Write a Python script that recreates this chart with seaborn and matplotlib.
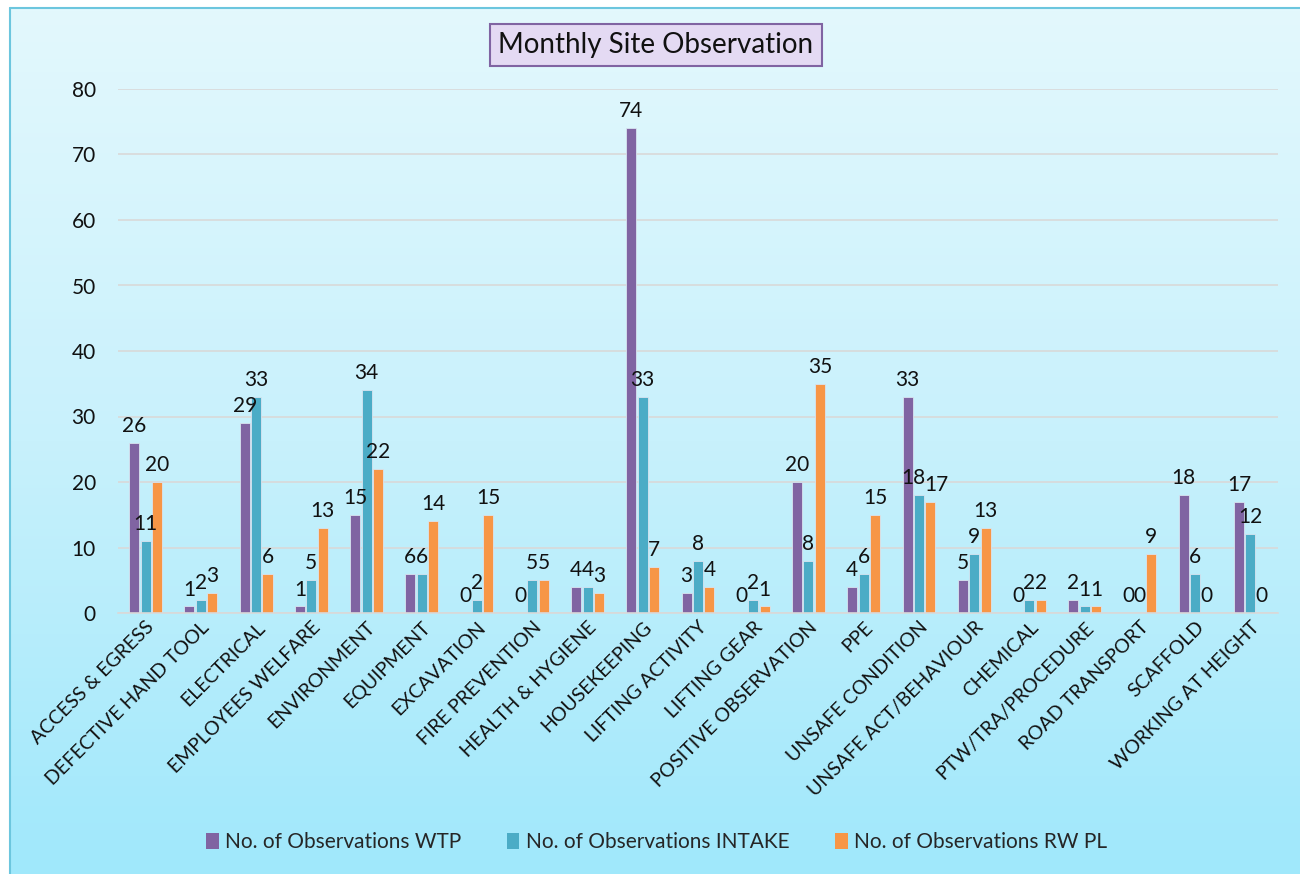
import numpy as np
import pandas as pd
import matplotlib
matplotlib.use("Agg")
import matplotlib.pyplot as plt
import seaborn as sns
from matplotlib.colors import LinearSegmentedColormap
from matplotlib.lines import Line2D
from matplotlib.patches import Patch

categories = ["ACCESS & EGRESS", "DEFECTIVE HAND TOOL", "ELECTRICAL", "EMPLOYEES WELFARE",
              "ENVIRONMENT", "EQUIPMENT", "EXCAVATION", "FIRE PREVENTION", "HEALTH & HYGIENE",
              "HOUSEKEEPING", "LIFTING ACTIVITY", "LIFTING GEAR", "POSITIVE OBSERVATION", "PPE",
              "UNSAFE CONDITION", "UNSAFE ACT/BEHAVIOUR", "CHEMICAL", "PTW/TRA/PROCEDURE",
              "ROAD TRANSPORT", "SCAFFOLD", "WORKING AT HEIGHT"]
wtp = [26, 1, 29, 1, 15, 6, 0, 0, 4, 74, 3, 0, 20, 4, 33, 5, 0, 2, 0, 18, 17]
intake = [11, 2, 33, 5, 34, 6, 2, 5, 4, 33, 8, 2, 8, 6, 18, 9, 2, 1, 0, 6, 12]
rwpl = [20, 3, 6, 13, 22, 14, 15, 5, 3, 7, 4, 1, 35, 15, 17, 13, 2, 1, 9, 0, 0]
series_names = ["No. of Observations WTP", "No. of Observations INTAKE", "No. of Observations RW PL"]
colors = ["#8064A2", "#4BACC6", "#F79646"]

df = pd.DataFrame({"category": categories,
                   series_names[0]: wtp,
                   series_names[1]: intake,
                   series_names[2]: rwpl})
df = df.melt(id_vars="category", var_name="series", value_name="value")

sns.set_theme(style="white")
plt.rcParams["font.family"] = ["Lato", "DejaVu Sans"]

W, H = 1300, 874
fig = plt.figure(figsize=(W / 100, H / 100), dpi=100)
fig.patch.set_facecolor("white")

# background gradient panel
bg = fig.add_axes([0, 0, 1, 1], zorder=0)
cmap = LinearSegmentedColormap.from_list("bg", ["#E3F8FD", "#C8F1FC", "#A0E8FB"])
grad = np.linspace(0, 1, 256).reshape(-1, 1)
x0, y0 = 10 / W, 1 - 8 / H
bg.imshow(grad, aspect="auto", cmap=cmap, extent=[x0, 1.0, 0, y0], origin="upper")
bg.set_xlim(0, 1)
bg.set_ylim(0, 1)
bg.add_line(Line2D([x0, x0], [0, y0], color="#6CC6DE", lw=1.5))
bg.add_line(Line2D([x0, 1], [y0, y0], color="#6CC6DE", lw=1.5))
bg.axis("off")

ax = fig.add_axes([118 / W, 1 - 613 / H, 1160 / W, 524 / H], zorder=1)
ax.patch.set_alpha(0)

sns.barplot(data=df, x="category", y="value", hue="series", palette=colors,
            saturation=1, width=0.62, gap=0.12, ax=ax, edgecolor="#D8E4F0",
            linewidth=0.6, errorbar=None)

all_labels = []
for c in ax.containers:
    all_labels.append(ax.bar_label(c, padding=5, fontsize=15, color="#111111"))

# nudge the crowded pair in "UNSAFE CONDITION" apart slightly
k = categories.index("UNSAFE CONDITION")
if len(all_labels) == 3:
    a1 = all_labels[1][k]
    a2 = all_labels[2][k]
    a1.xyann = (a1.xyann[0] - 4, a1.xyann[1])
    a2.xyann = (a2.xyann[0] + 4, a2.xyann[1])

ax.set_ylim(0, 80)
ax.set_yticks(range(0, 81, 10))
ax.grid(axis="y", color="#D9D9D9", lw=1.2)
ax.set_axisbelow(True)
for s in ["top", "right", "left"]:
    ax.spines[s].set_visible(False)
ax.spines["bottom"].set_color("#D9D9D9")
ax.spines["bottom"].set_linewidth(1.2)
ax.tick_params(axis="y", length=0, pad=16, labelsize=15, labelcolor="#111111")
ax.tick_params(axis="x", length=0, pad=4, labelsize=14, labelcolor="#111111")
ax.set_xticks(range(len(categories)))
ax.set_xticklabels(categories, rotation=45, ha="right", rotation_mode="anchor")
ax.set_xlabel("")
ax.set_ylabel("")
if ax.get_legend():
    ax.get_legend().remove()

handles = [Patch(facecolor=c, edgecolor="none") for c in colors]
fig.legend(handles, series_names, loc="center", bbox_to_anchor=(0.505, 1 - 842 / H),
           ncol=3, frameon=False, fontsize=15, handlelength=0.6, handleheight=0.8,
           handletextpad=0.3, columnspacing=2.2)

fig.text(656 / W, 1 - 45 / H, "Monthly Site Observation", ha="center", va="center",
         fontsize=20, color="#111111",
         bbox=dict(boxstyle="square,pad=0.3", facecolor="#E4DAF3", edgecolor="#8064A2", lw=1.5))

fig.savefig("out.png", dpi=100, facecolor=fig.get_facecolor())
